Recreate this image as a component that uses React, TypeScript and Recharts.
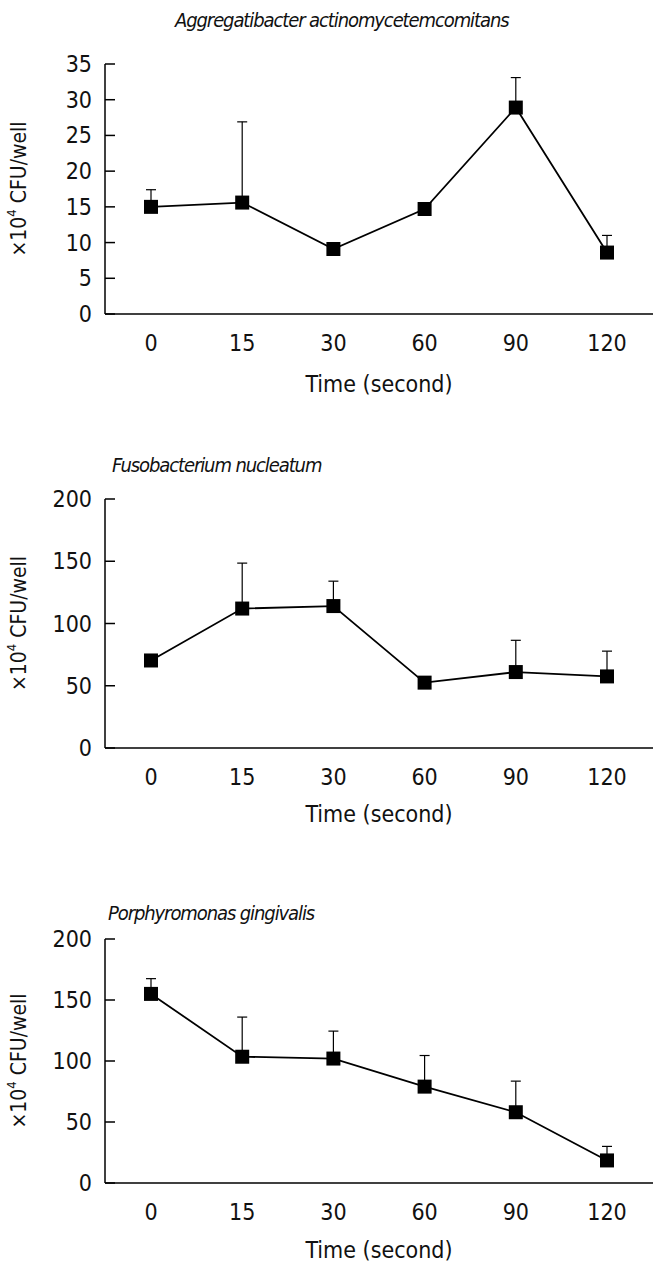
import React from 'react'
import { LineChart, Line, XAxis, YAxis, ErrorBar, Label } from 'recharts'

const FONT = "'DejaVu Sans Condensed', 'DejaVu Sans', sans-serif"

// time points (seconds)
const times = ['0', '15', '30', '60', '90', '120']

// A. actinomycetemcomitans, x10^4 CFU/well
const aaMean = [15.0, 15.6, 9.1, 14.7, 28.9, 8.6]
const aaSd = [2.4, 11.3, 0, 0, 4.2, 2.4]
const aaTicks = [0, 5, 10, 15, 20, 25, 30, 35]

// F. nucleatum
const fnMean = [70.3, 112, 114, 52.5, 61, 57.5]
const fnSd = [0, 36.5, 20, 0, 25.5, 20.3]
const fnTicks = [0, 50, 100, 150, 200]

// P. gingivalis
const pgMean = [155, 103.5, 102, 79, 58, 18.5]
const pgSd = [12.5, 32.5, 22.5, 25.5, 25.5, 11.5]
const pgTicks = [0, 50, 100, 150, 200]

const buildRows = (means: number[], sds: number[]) =>
  times.map((t, i) => ({ time: t, mean: means[i], err: [0, sds[i]] }))

const SquareDot = (props: any) => {
  const { cx, cy, index } = props
  if (cx == null || cy == null) return <g key={`sq-${index}`} />
  return <rect key={`sq-${index}`} x={cx - 7} y={cy - 7} width={14} height={14} fill="#000" />
}

// y tick with the tick mark pointing into the plot
const InwardTick = (props: any) => {
  const { x, y, payload } = props
  const axisX = x + 13
  return (
    <g>
      <line x1={axisX} y1={y} x2={axisX + 10} y2={y} stroke="#000" strokeWidth={1.5} />
      <text x={x} y={y} textAnchor="end" dominantBaseline="central" fontFamily={FONT} fontSize={23} fill="#111">
        {payload.value}
      </text>
    </g>
  )
}

const YTitle = (props: any) => {
  const vb = props.viewBox || {}
  const cy = vb.y + vb.height / 2
  const cx = 19
  return (
    <text
      x={cx}
      y={cy}
      transform={`rotate(-90 ${cx} ${cy})`}
      textAnchor="middle"
      dominantBaseline="central"
      fontFamily={FONT}
      fontSize={21}
      fill="#111"
    >
      ×10<tspan dy={-8} fontSize={13}>4</tspan><tspan dy={8}> CFU/well</tspan>
    </text>
  )
}

interface PanelProps {
  title: string
  titleLeft: number
  titleTop: number
  top: number
  marginTop: number
  plotHeight: number
  xAxisHeight: number
  ticks: number[]
  means: number[]
  sds: number[]
}

function Panel({ title, titleLeft, titleTop, top, marginTop, plotHeight, xAxisHeight, ticks, means, sds }: PanelProps) {
  const data = buildRows(means, sds)
  const height = marginTop + plotHeight + xAxisHeight + 8
  return (
    <>
      <div
        style={{
          position: 'absolute',
          left: titleLeft,
          top: titleTop,
          fontFamily: FONT,
          fontStyle: 'italic',
          fontSize: 20,
          letterSpacing: -1.1,
          lineHeight: '22px',
          color: '#111',
          whiteSpace: 'nowrap',
        }}
      >
        {title}
      </div>
      <div style={{ position: 'absolute', left: 0, top }}>
        <LineChart width={657} height={height} data={data} margin={{ top: marginTop, right: 4, left: 0, bottom: 8 }}>
          <XAxis
            dataKey="time"
            axisLine={{ stroke: '#000', strokeWidth: 1.5 }}
            tickLine={false}
            tickSize={0}
            tickMargin={21}
            height={xAxisHeight}
            padding={{ left: 46, right: 46 }}
            tick={{ fontFamily: FONT, fontSize: 23, fill: '#111' }}
            interval={0}
          >
            <Label
              value="Time (second)"
              position="insideBottom"
              offset={0}
              style={{ fontFamily: FONT, fontSize: 23, fill: '#111' }}
            />
          </XAxis>
          <YAxis
            width={105}
            domain={[ticks[0], ticks[ticks.length - 1]]}
            ticks={ticks}
            interval={0}
            axisLine={{ stroke: '#000', strokeWidth: 1.5 }}
            tickLine={false}
            tickSize={0}
            tickMargin={13}
            tick={<InwardTick />}
          >
            <Label content={<YTitle />} />
          </YAxis>
          <Line
            type="linear"
            dataKey="mean"
            stroke="#000"
            strokeWidth={1.8}
            dot={<SquareDot />}
            activeDot={false}
            isAnimationActive={false}
          >
            <ErrorBar dataKey="err" direction="y" width={5} stroke="#000" strokeWidth={1.2} isAnimationActive={false} />
          </Line>
        </LineChart>
      </div>
    </>
  )
}

export default function App() {
  return (
    <div style={{ position: 'absolute', left: 0, top: 0, width: 657, height: 1275, background: '#fff' }}>
      <Panel
        title="Aggregatibacter actinomycetemcomitans"
        titleLeft={175}
        titleTop={9}
        top={0}
        marginTop={64}
        plotHeight={250}
        xAxisHeight={78}
        ticks={aaTicks}
        means={aaMean}
        sds={aaSd}
      />
      <Panel
        title="Fusobacterium nucleatum"
        titleLeft={112}
        titleTop={454}
        top={440}
        marginTop={59}
        plotHeight={249}
        xAxisHeight={74}
        ticks={fnTicks}
        means={fnMean}
        sds={fnSd}
      />
      <Panel
        title="Porphyromonas gingivalis"
        titleLeft={108}
        titleTop={902}
        top={890}
        marginTop={49}
        plotHeight={244}
        xAxisHeight={75}
        ticks={pgTicks}
        means={pgMean}
        sds={pgSd}
      />
    </div>
  )
}
